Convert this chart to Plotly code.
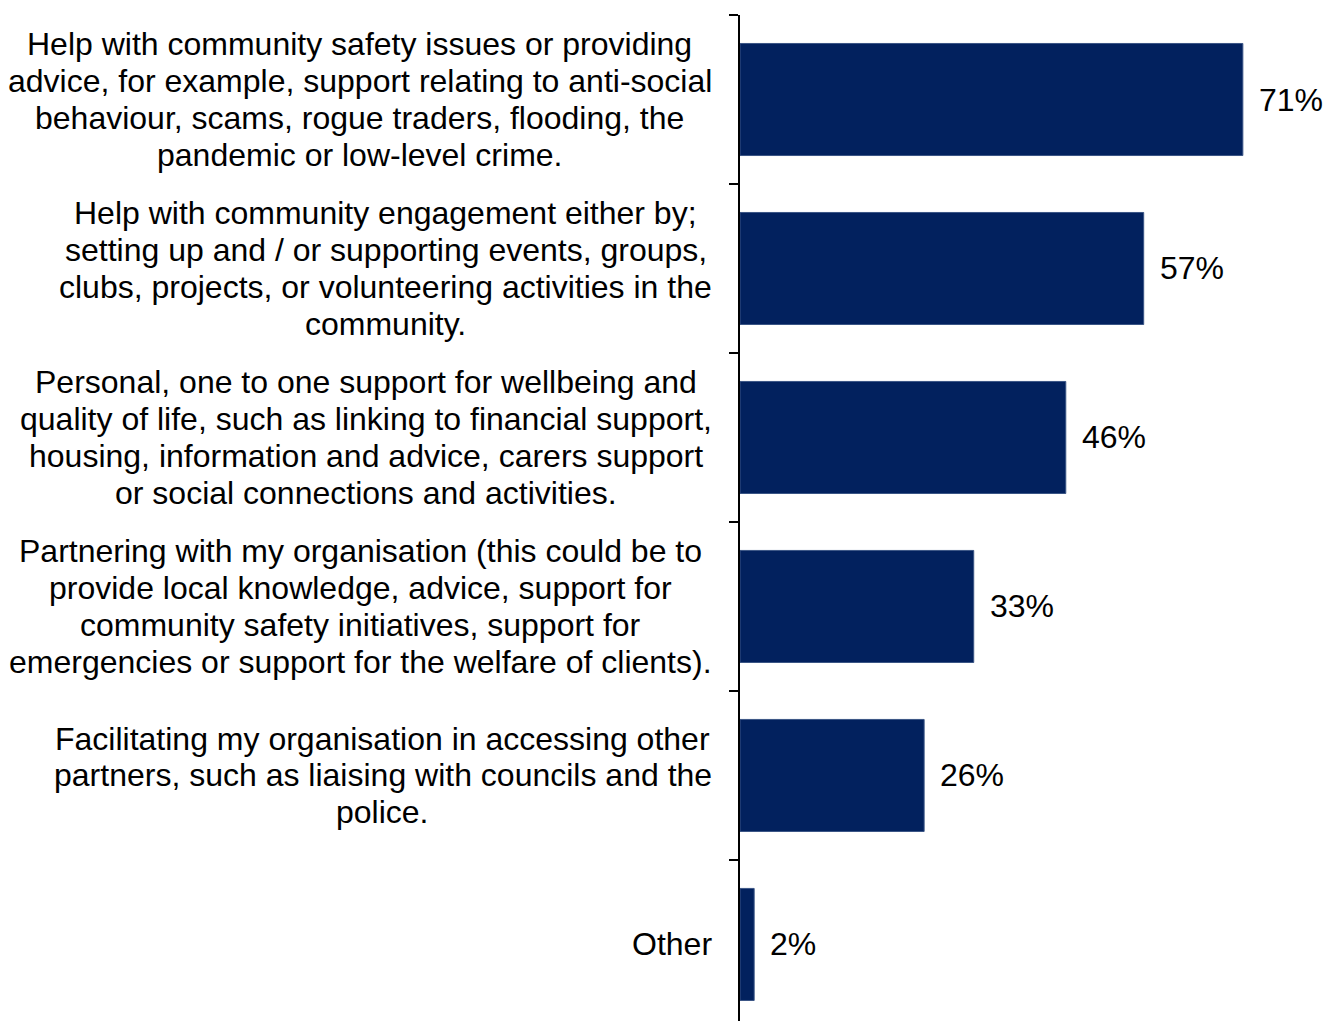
import plotly.graph_objects as go

categories = [
    "Help with community safety issues or providing<br>advice, for example, support relating to anti-social<br>behaviour, scams, rogue traders, flooding, the<br>pandemic or low-level crime.",
    "Help with community engagement either by;<br>setting up and / or supporting events, groups,<br>clubs, projects, or volunteering activities in the<br>community.",
    "Personal, one to one support for wellbeing and<br>quality of life, such as linking to financial support,<br>housing, information and advice, carers support<br>or social connections and activities.",
    "Partnering with my organisation (this could be to<br>provide local knowledge, advice, support for<br>community safety initiatives, support for<br>emergencies or support for the welfare of clients).",
    "Facilitating my organisation in accessing other<br>partners, such as liaising with councils and the<br>police.",
    "Other",
]
values = [71, 57, 46, 33, 26, 2]

FONT = "Liberation Sans, Arial, sans-serif"
FONT_SIZE = 32
LINE_PX = 36.7
LABEL_GAP = 28
BAR_COLOR = "#02215e"

# Helvetica/Arial advance widths (per 1000 em) for centring multi-line labels
_W = {" ": 278, ",": 278, ".": 278, ";": 278, ":": 278, "-": 333, "/": 278,
      "(": 333, ")": 333, "%": 889, "'": 191}
_W.update({c: 556 for c in "0123456789"})
_W.update(dict(zip("ABCDEFGHIJKLMNOPQRSTUVWXYZ",
                   [667, 667, 722, 722, 667, 611, 778, 722, 278, 500, 667, 556, 833,
                    722, 778, 667, 778, 722, 667, 611, 722, 667, 944, 667, 667, 611])))
_W.update(dict(zip("abcdefghijklmnopqrstuvwxyz",
                   [556, 556, 500, 556, 556, 278, 556, 556, 222, 222, 500, 222, 833,
                    556, 556, 556, 556, 333, 500, 278, 556, 500, 722, 500, 500, 500])))


def text_width(s, size):
    return sum(_W.get(c, 556) for c in s) * size / 1000.0


idx = list(range(len(categories)))

fig = go.Figure()
fig.add_trace(go.Bar(
    x=values,
    y=idx,
    orientation="h",
    marker=dict(color=BAR_COLOR, line=dict(color="#3a5585", width=1)),
    hoverinfo="skip",
))

annotations = []
for i, (cat, v) in enumerate(zip(categories, values)):
    lines = cat.split("<br>")
    n = len(lines)
    maxw = max(text_width(l, FONT_SIZE) for l in lines)
    centre_shift = -LABEL_GAP - maxw / 2.0
    for k, line in enumerate(lines):
        annotations.append(dict(
            x=0, xref="paper", y=i, yref="y",
            text=line, showarrow=False, xanchor="center", yanchor="middle",
            xshift=centre_shift, yshift=-(k - (n - 1) / 2.0) * LINE_PX,
            font=dict(family=FONT, size=FONT_SIZE, color="black"),
        ))
    annotations.append(dict(
        x=v, xref="x", y=i, yref="y",
        text=f"{v}%", showarrow=False, xanchor="left", yanchor="middle",
        xshift=14,
        font=dict(family=FONT, size=FONT_SIZE, color="black"),
    ))

fig.update_layout(
    width=1325, height=1021,
    margin=dict(l=740, r=0, t=15, b=0),
    paper_bgcolor="white", plot_bgcolor="white",
    showlegend=False,
    bargap=0.337,
    font=dict(family=FONT, size=FONT_SIZE, color="black"),
    annotations=annotations,
    xaxis=dict(range=[0, 82.6], visible=False, fixedrange=True),
    yaxis=dict(
        range=[5.453, -0.5],
        tickmode="array",
        tickvals=[i - 0.5 for i in idx] + [len(idx) - 0.5],
        ticktext=[""] * (len(idx) + 1),
        ticks="outside", ticklen=9, tickwidth=1.5, tickcolor="black",
        showline=True, linecolor="black", linewidth=2,
        showgrid=False, zeroline=False, showticklabels=False,
        fixedrange=True,
    ),
)

fig.write_html(
    "out.html",
    config={"displayModeBar": False},
    post_script="document.body.style.margin='0';document.body.style.overflow='hidden';",
)
